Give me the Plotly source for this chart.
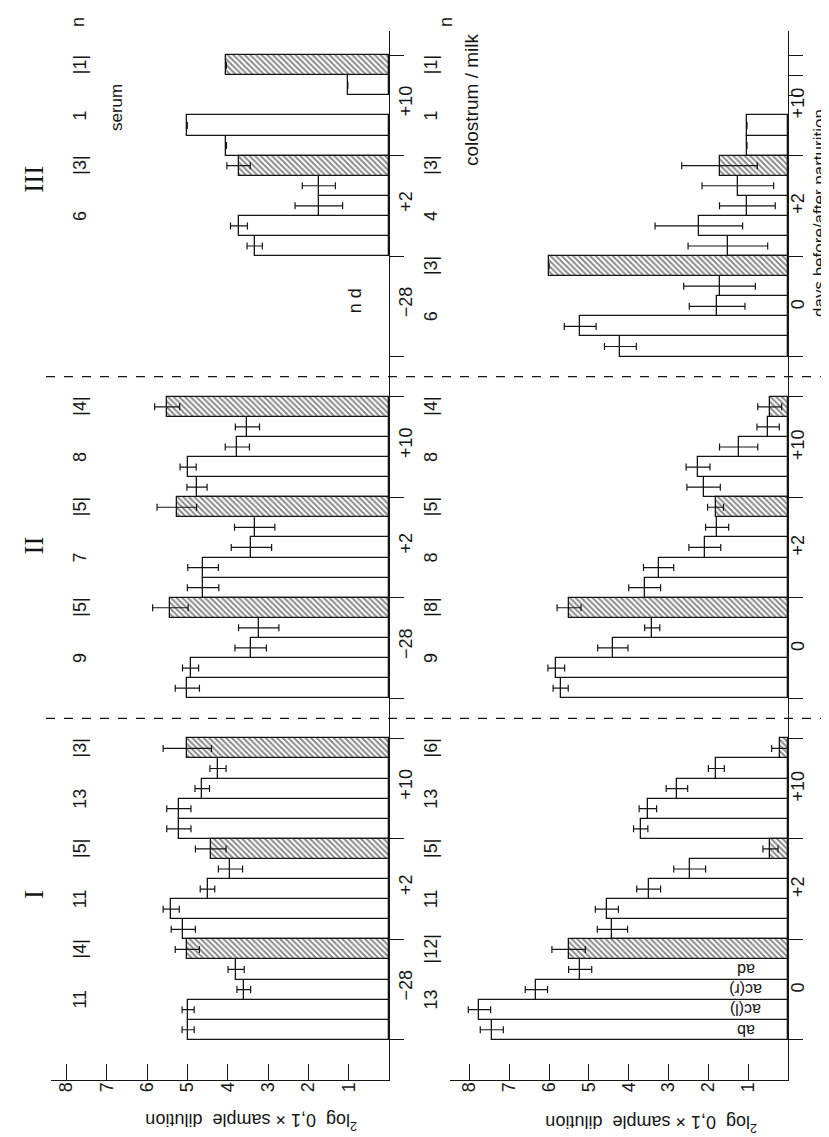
import plotly.graph_objects as go

W, H = 829, 1137

# ---------------- data ----------------
groups = ["I", "II", "III"]
serum_days = ["\u221228", "+2", "+10"]
milk_days = ["0", "+2", "+10"]
quarters = ["ab", "ac(l)", "ac(r)", "ad"]
value_ticks = [1, 2, 3, 4, 5, 6, 7, 8]

# serum: [group][day][quarter]
serum_white = [
    [[4.98, 4.98, 3.60, 3.79], [5.10, 5.40, 4.50, 3.93], [5.21, 5.21, 4.63, 4.24]],
    [[5.00, 4.92, 3.43, 3.23], [4.61, 4.61, 3.41, 3.33], [4.76, 4.98, 3.76, 3.51]],
    [[None, None, None, None], [3.33, 3.72, 1.74, 1.74], [4.03, 5.00, None, 1.02]],
]
serum_white_err = [
    [[0.15, 0.15, 0.17, 0.20], [0.30, 0.20, 0.18, 0.30], [0.30, 0.30, 0.18, 0.20]],
    [[0.30, 0.20, 0.39, 0.50], [0.39, 0.38, 0.50, 0.50], [0.25, 0.20, 0.30, 0.30]],
    [[None, None, None, None], [0.19, 0.21, 0.59, 0.41], [None, None, None, None]],
]
serum_hatched = [[5.00, 4.42, 5.00], [5.42, 5.26, 5.50], [None, 3.73, 4.03]]
serum_hatched_err = [[0.30, 0.38, 0.60], [0.44, 0.49, 0.31], [None, 0.29, None]]

milk_white = [
    [[7.44, 7.75, 6.32, 5.22], [4.41, 4.55, 3.50, 2.47], [3.70, 3.52, 2.79, 1.80]],
    [[5.71, 5.82, 4.40, 3.41], [3.60, 3.25, 2.09, 1.78], [2.12, 2.26, 1.24, 0.50]],
    [[4.21, 5.22, 1.78, 1.72], [1.51, 2.24, 1.02, 1.26], [1.03, 1.03, None, None]],
]
milk_white_err = [
    [[0.29, 0.28, 0.28, 0.29], [0.38, 0.29, 0.30, 0.40], [0.18, 0.22, 0.27, 0.20]],
    [[0.19, 0.21, 0.38, 0.19], [0.40, 0.38, 0.40, 0.29], [0.42, 0.30, 0.48, 0.28]],
    [[0.40, 0.40, 0.70, 0.90], [1.00, 1.10, 0.70, 0.90], [None, None, None, None]],
]
milk_hatched = [[5.51, 0.44, 0.21], [5.50, 1.82, 0.46], [6.00, 1.72, None]]
milk_hatched_err = [[0.42, 0.19, 0.20], [0.30, 0.20, 0.30], [None, 0.95, None]]

# n per [group][white, hatched, white, hatched, white, hatched]
serum_n = [["11", "|4|", "11", "|5|", "13", "|3|"],
           ["9", "|5|", "7", "|5|", "8", "|4|"],
           ["", "", "6", "|3|", "1", "|1|"]]
milk_n = [["13", "|12|", "11", "|5|", "13", "|6|"],
          ["9", "|8|", "8", "|5|", "8", "|4|"],
          ["6", "|3|", "4", "|3|", "1", "|1|"]]

# ---------------- layout helpers ----------------
GROUP_START = [0, 17, 34]
SET_LEN = 5
FONT = "Liberation Sans"
INK = "#151515"


def px(x):
    return x / W


def py(y):
    return 1 - y / H


def build(white, white_err, hatched, hatched_err):
    wy, wx, we, hy, hx, he = [], [], [], [], [], []
    for g, gs in enumerate(GROUP_START):
        for d in range(3):
            s = gs + d * SET_LEN
            for q in range(4):
                wy.append(s + q + 0.5)
                wx.append(white[g][d][q])
                we.append(white_err[g][d][q])
            hy.append(s + 4.5)
            hx.append(hatched[g][d])
            he.append(hatched_err[g][d])
    return wy, wx, we, hy, hx, he


fig = go.Figure()
line = dict(color=INK, width=1.3)
err_style = dict(type="data", visible=True, color=INK, thickness=1.2, width=3.5)

for (white, werr, hat, herr, xa, ya) in [
    (serum_white, serum_white_err, serum_hatched, serum_hatched_err, "x", "y"),
    (milk_white, milk_white_err, milk_hatched, milk_hatched_err, "x2", "y2"),
]:
    wy, wx, we, hy, hx, he = build(white, werr, hat, herr)
    fig.add_trace(go.Bar(orientation="h", x=wx, y=wy, width=1,
                         marker=dict(color="white", line=line),
                         error_x=dict(array=we, **err_style),
                         xaxis=xa, yaxis=ya, showlegend=False, hoverinfo="skip"))
    fig.add_trace(go.Bar(orientation="h", x=hx, y=hy, width=1,
                         marker=dict(color="white", line=line,
                                     pattern=dict(shape="\\", fgcolor=INK, bgcolor="white",
                                                  size=4, solidity=0.5)),
                         error_x=dict(array=he, **err_style),
                         xaxis=xa, yaxis=ya, showlegend=False, hoverinfo="skip"))

YR = [-2, 50.2]
ydom = [py(1072), py(23)]
base_ticks = []
for gs in GROUP_START:
    base_ticks += [gs, gs + 5, gs + 10, gs + 15]

xcommon = dict(showline=True, linecolor=INK, linewidth=1.3, ticks="inside", ticklen=16,
               tickwidth=1.3, tickcolor=INK, tickvals=value_ticks,
               ticktext=[str(v) for v in value_ticks], tickangle=-90,
               ticklabelstandoff=-6,
               tickfont=dict(family=FONT, size=18, color=INK),
               showgrid=False, zeroline=False, fixedrange=True)
ycommon = dict(showline=True, linecolor=INK, linewidth=1.3, ticks="outside", ticklen=14,
               tickwidth=1.3, tickcolor=INK, showticklabels=False, range=YR,
               domain=ydom, side="right", showgrid=False, zeroline=False)

fig.update_layout(
    width=W, height=H, margin=dict(l=0, r=0, t=0, b=0),
    paper_bgcolor="white", plot_bgcolor="white", barmode="overlay", bargap=0,
    xaxis=dict(domain=[px(43), px(381)], range=[8.38, 0], anchor="y", **xcommon),
    xaxis2=dict(domain=[px(442), px(780)], range=[8.49, 0], anchor="y2", **xcommon),
    yaxis=dict(anchor="x", tickvals=base_ticks, **ycommon),
    yaxis2=dict(anchor="x2", tickvals=base_ticks + [47, 48], **ycommon),
)

ann = []


def text(x, y, s, size=18, angle=-90, yref="y", family=FONT, **kw):
    ann.append(dict(x=x, y=y, xref="paper", yref=yref, text=s, showarrow=False,
                    textangle=angle, font=dict(family=family, size=size, color=INK),
                    xanchor="center", yanchor="middle", **kw))


# roman numerals (centred on each animal's block)
roman_y = [7.2, 24.6, 42.8]
for name, yv in zip(groups, roman_y):
    text(px(26), yv, name, size=27, family="Liberation Serif")

# n labels and day labels
for g, gs in enumerate(GROUP_START):
    for d in range(3):
        s = gs + d * SET_LEN
        for k, off in enumerate([2.0, 4.5]):
            lab_s = serum_n[g][2 * d + k]
            lab_m = milk_n[g][2 * d + k]
            if lab_s:
                text(px(72), s + off, lab_s)
            if lab_m:
                text(px(423), s + off, lab_m)
        text(px(398), s + 2.7, serum_days[d])
        text(px(790), s + 2.6, milk_days[d])

# n d for serum group III, day -28
text(px(347), 34 + 2.75, "n d")

# quarter labels inside colostrum group I, day 0 bars (upside down)
for q, name in enumerate(quarters):
    text(px(738), q + 0.5, name, size=16, angle=180)

# headers
text(px(70), py(14), "n", yref="paper")
text(px(438), py(14), "n", yref="paper")
text(px(108), py(100), "serum", size=17, yref="paper")
text(px(463), py(92), "colostrum / milk", size=19, yref="paper")
text(px(811), py(205), "days before/after parturition", size=17, yref="paper")

# value axis titles (upside down)
text(px(243), py(1114), "<sup>2</sup>log  0,1 \u00d7 sample  dilution", size=18,
     angle=180, yref="paper")
text(px(643), py(1116), "<sup>2</sup>log  0,1 \u00d7 sample  dilution", size=18,
     angle=180, yref="paper")

fig.update_layout(annotations=ann)

# dashed separators between animals
for yv in [16, 33]:
    fig.add_shape(type="line", xref="paper", yref="y", x0=px(38), x1=px(818), y0=yv, y1=yv,
                  line=dict(color=INK, width=1.2, dash="dash"))

fig.write_html("out.html")
